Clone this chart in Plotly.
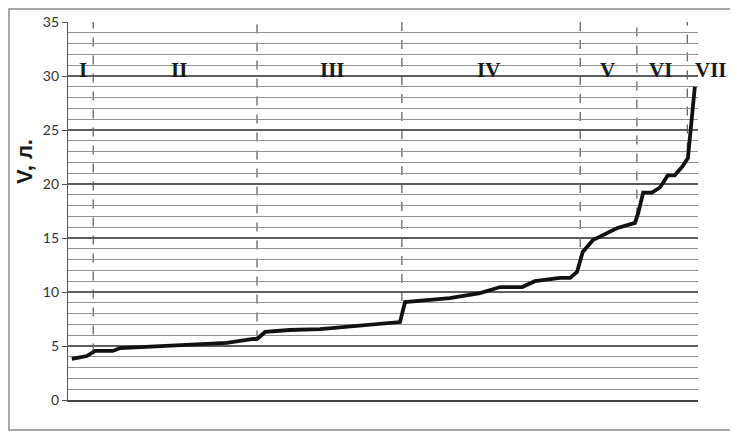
import plotly.graph_objects as go

obs = [0.6, 3.0, 4.3, 7.1, 8.3, 19.8, 25.2, 29.4, 30.0, 31.3, 35.2, 40.0, 46.3,
       51.9, 52.7, 53.5, 55.9, 60.6, 65.4, 67.0, 68.6, 72.1, 74.1, 78.1, 79.7,
       80.8, 81.7, 83.3, 84.4, 87.1, 90.0, 90.5, 91.3, 92.7, 94.0, 95.2, 96.3,
       97.5, 98.4, 98.7, 99.5]
volume = [3.8, 4.07, 4.54, 4.54, 4.81, 5.09, 5.28, 5.65, 5.65, 6.3, 6.48, 6.57, 6.85,
          7.13, 7.22, 9.07, 9.17, 9.44, 9.9, 10.2, 10.46, 10.46, 11.0, 11.3, 11.3,
          11.85, 13.7, 14.8, 15.1, 15.9, 16.4, 17.3, 19.2, 19.2, 19.7, 20.8, 20.8,
          21.6, 22.4, 24.4, 29.0]

# group boundaries (dashed lines) and where they meet the curve
bounds = [4.0, 30.0, 53.0, 81.3, 90.3, 98.3]
bound_low = [4.4, 5.6, 7.5, 12.5, 17.0, 23.0]

# roman group labels and their centres (same units as obs)
groups = ["I", "II", "III", "IV", "V", "VI", "VII"]
group_x = [2.4, 17.6, 42.0, 66.7, 85.6, 94.0, 102.0]

X_MAX = 100

fig = go.Figure()
fig.add_trace(go.Scatter(x=obs, y=volume, mode="lines",
                         line=dict(color="#111111", width=3.8), showlegend=False))

for bx, by in zip(bounds, bound_low):
    fig.add_shape(type="line", x0=bx, x1=bx, y0=by, y1=35, xref="x", yref="y",
                  line=dict(color="#4a4a4a", width=1.1, dash="dash"), layer="below")

# labels go by paper coords so VII (outside the axis range) is still shown
for g, gx in zip(groups, group_x):
    fig.add_annotation(x=gx / X_MAX, y=30.6, xref="paper", yref="y",
                       text="<b>" + g + "</b>", showarrow=False, xanchor="center",
                       font=dict(family="Liberation Serif", size=21, color="#1a1a1a"))

fig.add_annotation(x=-44 / 630, y=1 - 140 / 378, xref="paper", yref="paper",
                   text="<b>V, л.</b>", showarrow=False, textangle=-90,
                   xanchor="center", yanchor="middle",
                   font=dict(family="Liberation Sans", size=22, color="#1a1a1a"))

# outer frame of the chart
fig.add_shape(type="rect", xref="paper", yref="paper",
              x0=-59 / 630, x1=1 + 38 / 630, y0=-30 / 378, y1=1 + 13 / 378,
              line=dict(color="#8c8c8c", width=1.5), fillcolor="rgba(0,0,0,0)")

# page body adds 8px, so margins are shifted to keep the plot where it belongs
fig.update_layout(
    width=738, height=432,
    margin=dict(l=60, r=48, t=14, b=40, autoexpand=False),
    paper_bgcolor="white", plot_bgcolor="white",
    xaxis=dict(range=[0, X_MAX], showticklabels=False, ticks="", showgrid=False,
               zeroline=False, showline=True, linecolor="#444444", linewidth=1.5),
    yaxis=dict(range=[0, 35], dtick=5, showgrid=True, gridcolor="#5e5e5e", gridwidth=1.5,
               minor=dict(dtick=1, showgrid=True, gridcolor="#909090", gridwidth=1.3),
               ticks="outside", ticklen=5, tickcolor="#555555",
               showline=True, linecolor="#555555", linewidth=1.2, zeroline=False,
               tickfont=dict(family="Lato", size=14, color="#333333")),
)

fig.write_html("out.html")
